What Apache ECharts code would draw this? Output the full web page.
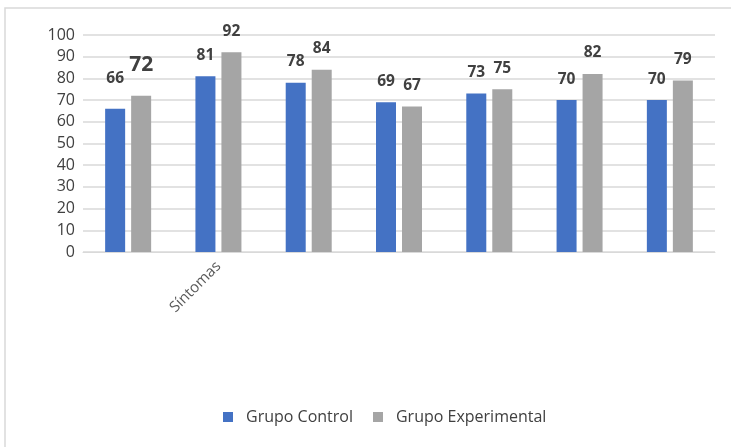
<!DOCTYPE html>
<html>
<head>
<meta charset="utf-8">
<script src="https://cdn.jsdelivr.net/npm/echarts@6/dist/echarts.min.js"></script>
<style>
  html, body { margin: 0; padding: 0; background: #fff; }
  #ch-main { width: 731px; height: 447px; }
</style>
</head>
<body>
<div id="ch-main"></div>
<script>
// chart values
var categories = ['', 'Síntomas', '', '', '', '', ''];
var grupoControl = [66, 81, 78, 69, 73, 70, 70];
var grupoExperimental = [72, 92, 84, 67, 75, 82, 79];
var yTicks = [0, 10, 20, 30, 40, 50, 60, 70, 80, 90, 100];

var myChart = echarts.init(document.getElementById('ch-main'));

var labelStyle = {
    show: true,
    position: 'top',
    distance: 13,
    fontFamily: 'Open Sans',
    fontSize: 15.5,
    fontWeight: 'bold',
    color: '#404040'
};

var option = {
    animation: false,
    textStyle: {fontFamily: 'Open Sans'},
    graphic: [{
        // chart frame (top and left edges only are visible)
        type: 'polyline',
        shape: {points: [[5, 447], [5, 8], [731, 8]]},
        style: {stroke: '#d9d9d9', lineWidth: 1.5, fill: null}
    }],
    grid: {left: 83, right: 16, top: 35, bottom: 195},
    legend: {
        bottom: 17,
        left: 218,
        itemWidth: 10,
        itemHeight: 10,
        itemGap: 20,
        icon: 'rect',
        textStyle: {fontSize: 16, color: '#404040', padding: [0, 0, 0, 8]},
        data: ['Grupo Control', 'Grupo Experimental']
    },
    xAxis: {
        type: 'category',
        data: categories,
        axisLine: {lineStyle: {color: '#d9d9d9'}},
        axisTick: {show: false},
        axisLabel: {rotate: 45, margin: 12, fontSize: 15, color: '#595959', interval: 0}
    },
    yAxis: {
        type: 'value',
        min: yTicks[0],
        max: yTicks[yTicks.length - 1],
        interval: 10,
        axisLine: {show: false},
        axisTick: {show: false},
        axisLabel: {fontSize: 16, color: '#404040', margin: 8},
        splitLine: {lineStyle: {color: '#d9d9d9', width: 1.5}}
    },
    series: [{
        name: 'Grupo Control',
        type: 'bar',
        data: grupoControl.map(function (v, i) {
            // first label sits higher in the reference
            return i === 0 ? {value: v, label: {distance: 22}} : v;
        }),
        barWidth: 20,
        barGap: '30%',
        itemStyle: {color: '#4472c4'},
        label: labelStyle
    }, {
        name: 'Grupo Experimental',
        type: 'bar',
        data: grupoExperimental.map(function (v, i) {
            // the first label is bigger in the reference
            return i === 0 ? {value: v, label: {fontSize: 21, distance: 20}} : v;
        }),
        barWidth: 20,
        itemStyle: {color: '#a5a5a5'},
        label: labelStyle
    }]
};

myChart.setOption(option);
</script>
</body>
</html>
